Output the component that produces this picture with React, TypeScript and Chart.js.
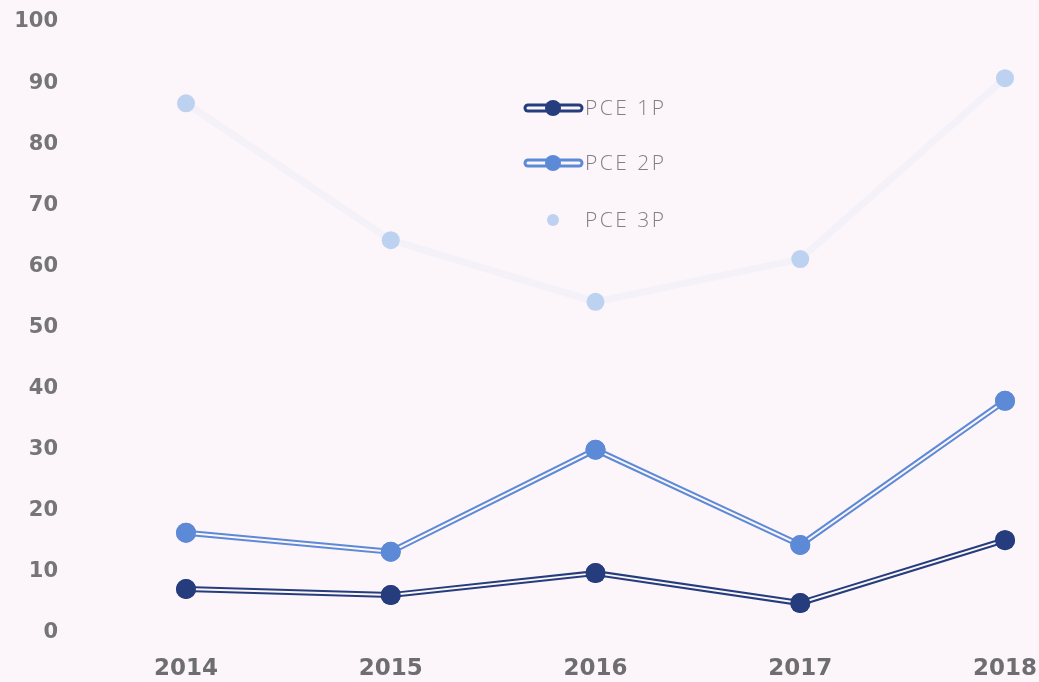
import React, { useEffect, useRef } from "react";
import { Chart, registerables } from "chart.js";

Chart.register(...registerables);

const categories = ["2014", "2015", "2016", "2017", "2018"];
const pce1p = [7.2, 6.2, 9.8, 4.9, 15.2];
const pce2p = [16.4, 13.3, 30.0, 14.4, 38.0];
const pce3p = [86.7, 64.3, 54.2, 61.2, 90.8];
const seriesNames = ["PCE 1P", "PCE 2P", "PCE 3P"];
const yTicks = [0, 10, 20, 30, 40, 50, 60, 70, 80, 90, 100];

const BG = "#fcf5fa";
const C1 = "#253d7d";
const C2 = "#5d8ad6";
const C3 = "#bcd2f0";

const doubleLine = {
  id: "doubleLine",
  afterDatasetDraw(chart: any, args: any) {
    const ds: any = chart.data.datasets[args.index];
    if (!ds.inner) return;
    const pts = args.meta.data;
    const ctx = chart.ctx;
    ctx.save();
    ctx.strokeStyle = BG;
    ctx.lineWidth = 2;
    ctx.lineJoin = "round";
    ctx.beginPath();
    pts.forEach((p: any, i: number) => (i ? ctx.lineTo(p.x, p.y) : ctx.moveTo(p.x, p.y)));
    ctx.stroke();
    ctx.fillStyle = ds.pointBackgroundColor;
    pts.forEach((p: any) => {
      ctx.beginPath();
      ctx.arc(p.x, p.y, ds.pointRadius, 0, Math.PI * 2);
      ctx.fill();
    });
    ctx.restore();
  },
};

const customLegend = {
  id: "customLegend",
  afterDraw(chart: any) {
    const ctx = chart.ctx;
    const x0 = 524;
    const ys = [108, 163, 220];
    ctx.save();
    chart.data.datasets.forEach((ds: any, i: number) => {
      const y = ys[i];
      if (ds.inner) {
        ctx.lineCap = "round";
        ctx.strokeStyle = ds.borderColor;
        ctx.lineWidth = 9;
        ctx.beginPath();
        ctx.moveTo(x0 + 4, y);
        ctx.lineTo(x0 + 55, y);
        ctx.stroke();
        ctx.strokeStyle = BG;
        ctx.lineWidth = 3;
        ctx.beginPath();
        ctx.moveTo(x0 + 4, y);
        ctx.lineTo(x0 + 55, y);
        ctx.stroke();
      }
      ctx.fillStyle = ds.pointBackgroundColor;
      ctx.beginPath();
      ctx.arc(x0 + 29, y, ds.inner ? 8 : 6, 0, Math.PI * 2);
      ctx.fill();
      ctx.fillStyle = "#808086";
      ctx.font = "300 21px 'Open Sans'";
      (ctx as any).letterSpacing = "2.5px";
      ctx.textBaseline = "middle";
      ctx.textAlign = "left";
      ctx.fillText(ds.label, x0 + 61, y + 1);
    });
    ctx.restore();
  },
};

export default function App() {
  const ref = useRef<HTMLCanvasElement | null>(null);
  useEffect(() => {
    if (!ref.current) return;
    const chart = new Chart(ref.current, {
      type: "line",
      data: {
        labels: categories,
        datasets: [
          {
            label: seriesNames[0],
            data: pce1p,
            borderColor: C1,
            backgroundColor: C1,
            pointBackgroundColor: C1,
            pointBorderWidth: 0,
            pointRadius: 10,
            borderWidth: 6,
            tension: 0,
            inner: true,
          } as any,
          {
            label: seriesNames[1],
            data: pce2p,
            borderColor: C2,
            backgroundColor: C2,
            pointBackgroundColor: C2,
            pointBorderWidth: 0,
            pointRadius: 10,
            borderWidth: 6,
            tension: 0,
            inner: true,
          } as any,
          {
            label: seriesNames[2],
            data: pce3p,
            borderColor: "#f4f1f9",
            backgroundColor: C3,
            pointBackgroundColor: C3,
            pointBorderWidth: 0,
            pointRadius: 9,
            borderWidth: 7,
            tension: 0,
            inner: false,
          } as any,
        ],
      },
      options: {
        animation: false,
        responsive: false,
        maintainAspectRatio: false,
        layout: { padding: { top: 22, right: 34, left: 0, bottom: 0 } },
        plugins: { legend: { display: false }, tooltip: { enabled: false } },
        scales: {
          x: {
            offset: false,
            grid: { display: false, drawTicks: false },
            border: { display: false },
            ticks: {
              color: "#6e6e72",
              font: { family: "DejaVu Sans", size: 23, weight: "bold" },
              padding: 22,
              maxRotation: 0,
            },
            afterFit(scale: any) {
              scale.height = 49;
              scale.paddingLeft = 0;
              scale.paddingRight = 0;
            },
          },
          y: {
            min: 0,
            max: 100,
            afterBuildTicks(scale: any) {
              scale.ticks = yTicks.map((v) => ({ value: v }));
            },
            grid: { display: false, drawTicks: false },
            border: { display: false },
            ticks: {
              color: "#757579",
              font: { family: "DejaVu Sans", size: 21, weight: "bold" },
              padding: 128,
            },
            afterFit(scale: any) {
              scale.width = 186;
              scale.paddingTop = 0;
              scale.paddingBottom = 0;
            },
          },
        },
      },
      plugins: [doubleLine, customLegend],
    });
    return () => chart.destroy();
  }, []);
  return (
    <div style={{ position: "fixed", left: 0, top: 0, width: 1039, height: 682, background: BG }}>
      <canvas ref={ref} width={1039} height={682} style={{ display: "block" }} />
    </div>
  );
}
